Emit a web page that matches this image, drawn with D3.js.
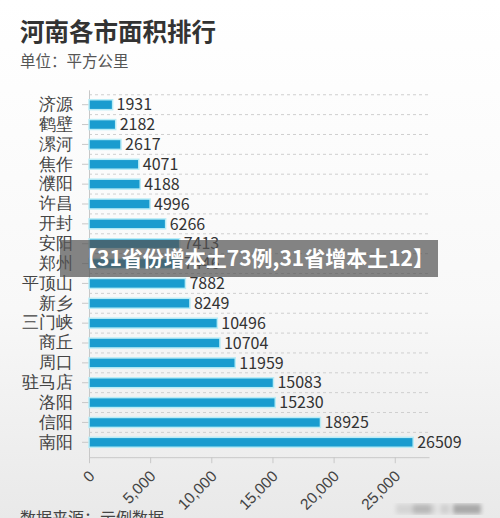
<!DOCTYPE html>
<html lang="zh">
<head>
<meta charset="utf-8" />
<title>河南各市面积排行</title>
<script src="https://d3js.org/d3.v7.min.js"></script>
<style>
  body { margin: 0; background: #fff; }
  svg { display: block; font-family: "Noto Sans CJK SC", "Noto Sans", sans-serif; }
  .axis path, .axis line { stroke: #c8c8c8; }
  .axis text { fill: #444; }
</style>
</head>
<body>
<svg id="chart" width="500" height="518"></svg>
<script>
// data
var cities = ["济源", "鹤壁", "漯河", "焦作", "濮阳", "许昌", "开封", "安阳", "郑州",
              "平顶山", "新乡", "三门峡", "商丘", "周口", "驻马店", "洛阳", "信阳", "南阳"];
var areas = [1931, 2182, 2617, 4071, 4188, 4996, 6266, 7413, 7446,
             7882, 8249, 10496, 10704, 11959, 15083, 15230, 18925, 26509];
var xTicks = [0, 5000, 10000, 15000, 20000, 25000];

var svg = d3.select("#chart");
var W = 500, H = 518;

// background, a bit greyer toward the bottom
var defs = svg.append("defs");
var bg = defs.append("linearGradient").attr("id", "bg").attr("x1", 0).attr("y1", 0).attr("x2", 0).attr("y2", 1);
bg.append("stop").attr("offset", "0%").attr("stop-color", "#ffffff");
bg.append("stop").attr("offset", "60%").attr("stop-color", "#f8f8f8");
bg.append("stop").attr("offset", "100%").attr("stop-color", "#e9e9e9");
defs.append("filter").attr("id", "blur").append("feGaussianBlur").attr("stdDeviation", 2);
svg.append("rect").attr("width", W).attr("height", H).attr("fill", "url(#bg)");

svg.append("text").attr("x", 20).attr("y", 41)
  .attr("font-size", 24.5).attr("font-weight", "bold").attr("fill", "#333")
  .text("河南各市面积排行");
svg.append("text").attr("x", 20).attr("y", 67)
  .attr("font-size", 15.5).attr("fill", "#555")
  .text("单位：平方公里");

var x = d3.scaleLinear().domain([0, 27800]).range([89, 429]);
var y = d3.scaleBand().domain(cities).range([89.8, 457.2]).padding(0.5);

// dashed grid lines at the row boundaries
var edges = cities.map(function(c) { return y(c) - y.step() * y.paddingInner() / 2; });
svg.append("g").selectAll("line").data(edges).enter().append("line")
  .attr("x1", x(0)).attr("x2", x.range()[1])
  .attr("y1", function(d) { return d; }).attr("y2", function(d) { return d; })
  .attr("stroke", "#cfcfcf").attr("stroke-dasharray", "3,3");

var yAxis = svg.append("g").attr("class", "axis")
  .attr("transform", "translate(" + x(0) + ",0)")
  .call(d3.axisLeft(y).tickSize(7).tickSizeOuter(0).tickPadding(9));
yAxis.selectAll("text").attr("font-size", 16.5).attr("fill", "#333");

var xAxis = svg.append("g").attr("class", "axis")
  .attr("transform", "translate(0," + y.range()[1] + ")")
  .call(d3.axisBottom(x).tickValues(xTicks).tickFormat(d3.format(",")).tickSize(6).tickSizeOuter(0));
xAxis.selectAll("text")
  .attr("font-size", 15.5).attr("fill", "#444")
  .attr("text-anchor", "end")
  .attr("x", 0).attr("y", 0).attr("dy", 0)
  .attr("transform", "translate(6,20) rotate(-45)");

svg.append("g").selectAll("rect").data(cities).enter().append("rect")
  .attr("x", x(0))
  .attr("y", function(d) { return y(d); })
  .attr("width", function(d, i) { return x(areas[i]) - x(0); })
  .attr("height", y.bandwidth())
  .attr("fill", "#1a9ccf")
  .attr("stroke", "#b9ecf6").attr("stroke-width", 1.5);

svg.append("g").selectAll("text").data(cities).enter().append("text")
  .attr("x", function(d, i) { return x(areas[i]) + 4; })
  .attr("y", function(d) { return y(d) + y.bandwidth() / 2; })
  .attr("dy", "0.36em")
  .attr("font-size", 16).attr("fill", "#333")
  .text(function(d, i) { return areas[i]; });

svg.append("text").attr("x", 20).attr("y", 524)
  .attr("font-size", 16).attr("fill", "#444")
  .text("数据来源：示例数据");

// blurred watermark blocks, bottom right
svg.append("g").attr("filter", "url(#blur)").selectAll("rect")
  .data([[396, 40, "#d4d4d4"], [413, 18, "#b8b8b8"], [440, 10, "#d0d0d0"], [453, 28, "#a8a8a8"]])
  .enter().append("rect")
  .attr("x", function(d) { return d[0]; }).attr("y", 504)
  .attr("width", function(d) { return d[1]; }).attr("height", 10)
  .attr("fill", function(d) { return d[2]; });

// news ticker banner laid over the chart
svg.append("rect").attr("x", 60).attr("y", 240).attr("width", 378).attr("height", 37)
  .attr("fill", "#555").attr("fill-opacity", 0.72);
svg.append("text").attr("x", 76).attr("y", 266)
  .attr("font-size", 21).attr("font-weight", "bold").attr("fill", "#fff")
  .text("【31省份增本土73例,31省增本土12】");
</script>
</body>
</html>
